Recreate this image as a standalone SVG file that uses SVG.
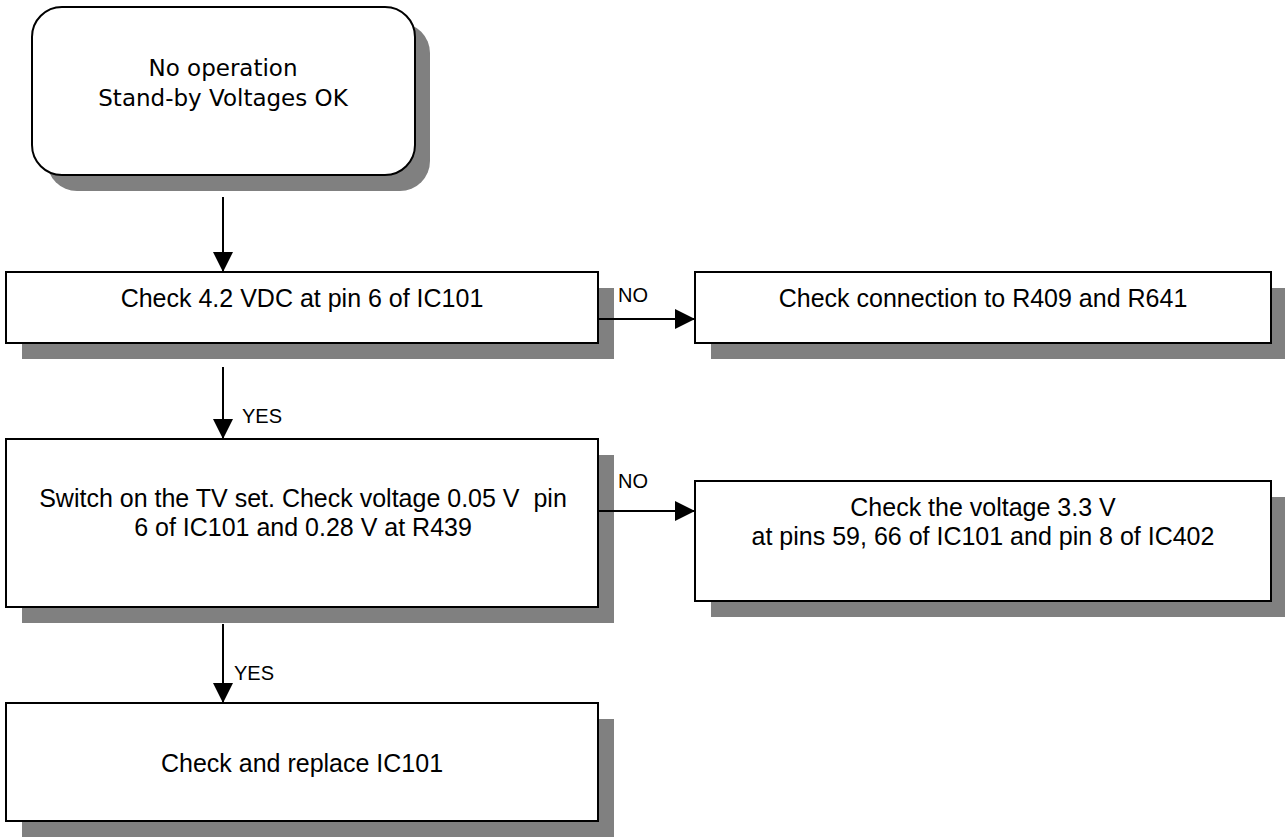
<svg xmlns="http://www.w3.org/2000/svg" width="1285" height="837" viewBox="0 0 1285 837">
  <style>
    .box { fill: #ffffff; stroke: #000000; stroke-width: 2; }
    .shadow { fill: #808080; stroke: none; }
    .t { font-family: "Liberation Sans", Arial, sans-serif; font-size: 25px; fill: #000000; text-anchor: middle; white-space: pre; }
    .t0 { font-family: "DejaVu Sans", "Liberation Sans", sans-serif; font-size: 23px; fill: #000000; text-anchor: middle; }
    .lbl { font-family: "Liberation Sans", Arial, sans-serif; font-size: 20px; fill: #000000; }
    .conn { stroke: #000000; stroke-width: 2; fill: none; marker-end: url(#arrow); }
  </style>
  <defs>
    <marker id="arrow" markerUnits="userSpaceOnUse" markerWidth="20" markerHeight="20" refX="20" refY="10" orient="auto" viewBox="0 0 20 20">
      <path d="M0,0 L20,10 L0,20 z" fill="#000000"/>
    </marker>
  </defs>
  <rect x="0" y="0" width="1285" height="837" fill="#ffffff"/>

  <g id="n1">
    <rect class="shadow" x="47" y="23" width="383" height="168" rx="30" ry="30"/>
    <rect class="box" x="32" y="7" width="383" height="168" rx="30" ry="30"/>
    <text class="t0" x="223" y="76">No operation</text>
    <text class="t0" x="223" y="106">Stand-by Voltages OK</text>
  </g>

  <g id="n2">
    <rect class="shadow" x="22" y="288" width="592" height="71"/>
    <rect class="box" x="6" y="272" width="592" height="71"/>
    <text class="t" x="302" y="307">Check 4.2 VDC at pin 6 of IC101</text>
  </g>

  <g id="n3">
    <rect class="shadow" x="711" y="288" width="576" height="71"/>
    <rect class="box" x="695" y="272" width="576" height="71"/>
    <text class="t" x="983" y="307">Check connection to R409 and R641</text>
  </g>

  <g id="n4">
    <rect class="shadow" x="22" y="455" width="592" height="168"/>
    <rect class="box" x="6" y="439" width="592" height="168"/>
    <text class="t" x="303" y="507">Switch on the TV set. Check voltage 0.05 V  pin</text>
    <text class="t" x="303" y="536">6 of IC101 and 0.28 V at R439</text>
  </g>

  <g id="n5">
    <rect class="shadow" x="711" y="497" width="576" height="120"/>
    <rect class="box" x="695" y="481" width="576" height="120"/>
    <text class="t" x="983" y="516">Check the voltage 3.3 V</text>
    <text class="t" x="983" y="545">at pins 59, 66 of IC101 and pin 8 of IC402</text>
  </g>

  <g id="n6">
    <rect class="shadow" x="22" y="719" width="592" height="118"/>
    <rect class="box" x="6" y="703" width="592" height="118"/>
    <text class="t" x="302" y="772">Check and replace IC101</text>
  </g>

  <g id="connectors">
    <line class="conn" x1="223" y1="197" x2="223" y2="272"/>
    <line class="conn" x1="598" y1="319" x2="695" y2="319"/>
    <text class="lbl" x="618" y="302">NO</text>
    <line class="conn" x1="223" y1="367" x2="223" y2="439"/>
    <text class="lbl" x="242" y="423">YES</text>
    <line class="conn" x1="598" y1="511" x2="695" y2="511"/>
    <text class="lbl" x="618" y="488">NO</text>
    <line class="conn" x1="223" y1="624" x2="223" y2="703"/>
    <text class="lbl" x="234" y="680">YES</text>
  </g>
</svg>
